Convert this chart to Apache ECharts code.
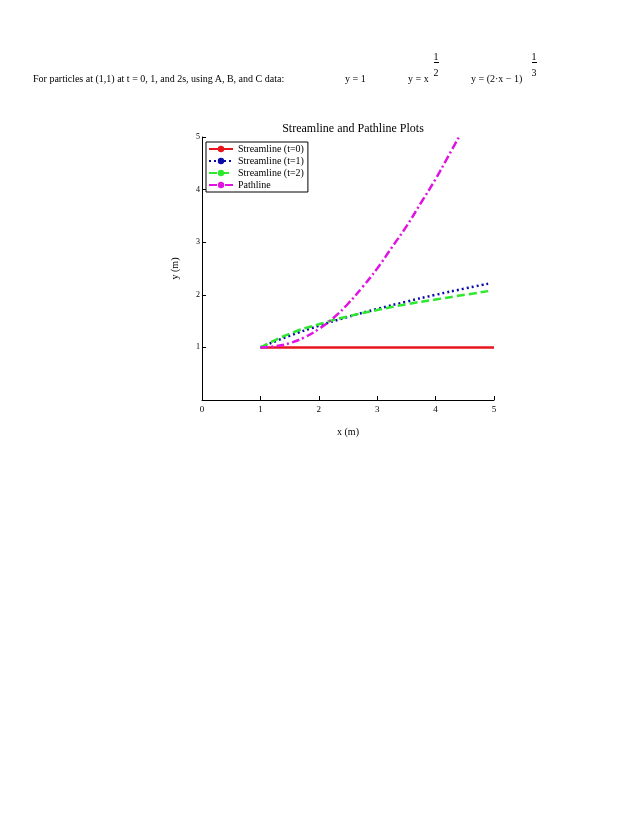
<!DOCTYPE html>
<html><head><meta charset="utf-8">
<script src="https://cdn.jsdelivr.net/npm/echarts@6/dist/echarts.min.js"></script>
<style>body{margin:0;background:#fff}#c{width:638px;height:826px}
.t{position:absolute;font-family:'Liberation Serif',serif;font-size:10px;color:#000}</style>
</head><body>
<div id="c"></div>
<div class="t" style="left:33px;top:73px">For particles at (1,1) at t = 0, 1, and 2s, using A, B, and C data:</div>
<div class="t" style="left:345px;top:73px">y = 1</div>
<div class="t" style="left:408px;top:73px">y = x</div>
<div class="t" style="left:432px;top:51px;text-align:center;width:8px"><span style="border-bottom:1px solid #000">1</span><br><span style="position:relative;top:5px">2</span></div>
<div class="t" style="left:471px;top:73px">y = (2·x − 1)</div>
<div class="t" style="left:530px;top:51px;text-align:center;width:8px"><span style="border-bottom:1px solid #000">1</span><br><span style="position:relative;top:5px">3</span></div>
<script>
const xs = [1, 1.5, 2, 2.5, 3, 3.5, 4, 4.5, 4.9];
const x0 = [1, 5];
const s0 = [1, 1];
const s1 = [1, 1.22, 1.41, 1.58, 1.73, 1.87, 2.0, 2.12, 2.21];
const s2 = [1, 1.26, 1.44, 1.59, 1.71, 1.82, 1.91, 2.0, 2.07];
const px = [1, 1.25, 1.5, 1.75, 2, 2.25, 2.5, 2.75, 3, 3.25, 3.5, 3.75, 4, 4.2, 4.4];
const py = [1, 1.02, 1.08, 1.19, 1.35, 1.56, 1.83, 2.15, 2.5, 2.9, 3.3, 3.75, 4.2, 4.6, 5];
const pair = (a, b) => a.map((v, i) => [v, b[i]]);
const font = 'Liberation Serif';
const chart = echarts.init(document.getElementById('c'));
chart.setOption({
  animation: false,
  title: {text: 'Streamline and Pathline Plots', left: 348, top: 118, textAlign: 'center',
    textStyle: {fontFamily: font, fontSize: 12, fontWeight: 'normal', color: '#000'}},
  legend: {orient: 'vertical', left: 206, top: 142, itemGap: 2, itemWidth: 24, itemHeight: 8,
    borderColor: '#000', borderWidth: 1, padding: [2, 4, 2, 2], borderRadius: 0,
    textStyle: {fontFamily: font, fontSize: 10, color: '#000'},
    data: ['Streamline (t=0)', 'Streamline (t=1)', 'Streamline (t=2)', 'Pathline']},
  grid: {left: 202, right: 144, top: 137, bottom: 426},
  xAxis: {type: 'value', min: 0, max: 5, interval: 1, name: 'x (m)', nameLocation: 'middle', nameGap: 27,
    nameTextStyle: {fontFamily: font, fontSize: 10, color: '#000'},
    axisLine: {lineStyle: {color: '#000'}}, axisTick: {inside: true, length: 4, lineStyle: {color: '#000'}},
    axisLabel: {fontFamily: font, fontSize: 9, color: '#000', margin: 5}, splitLine: {show: false}},
  yAxis: {type: 'value', min: 0, max: 5, interval: 1, name: 'y (m)', nameLocation: 'middle', nameGap: 22,
    nameTextStyle: {fontFamily: font, fontSize: 10, color: '#000'},
    axisLine: {onZero: false, lineStyle: {color: '#000'}}, axisTick: {inside: true, length: 4, lineStyle: {color: '#000'}},
    axisLabel: {fontFamily: font, fontSize: 8, color: '#000', margin: 2, formatter: v => v === 0 ? '' : v},
    splitLine: {show: false}},
  series: [
    {name: 'Streamline (t=0)', type: 'line', symbol: 'none', data: pair(x0, s0), itemStyle: {color: '#e8141c'}, lineStyle: {width: 2.5, color: '#e8141c'}},
    {name: 'Streamline (t=1)', type: 'line', smooth: true, symbol: 'none', data: pair(xs, s1), itemStyle: {color: '#0a0aa8'}, lineStyle: {width: 2.5, type: [2, 3], color: '#0a0aa8'}},
    {name: 'Streamline (t=2)', type: 'line', smooth: true, symbol: 'none', data: pair(xs, s2), itemStyle: {color: '#2ee82e'}, lineStyle: {width: 2.5, type: [8, 4], color: '#2ee82e'}},
    {name: 'Pathline', type: 'line', smooth: true, symbol: 'none', data: pair(px, py), itemStyle: {color: '#e014e0'}, lineStyle: {width: 2.5, type: [8, 3, 2, 3], color: '#e014e0'}}
  ]
});
</script></body></html>
